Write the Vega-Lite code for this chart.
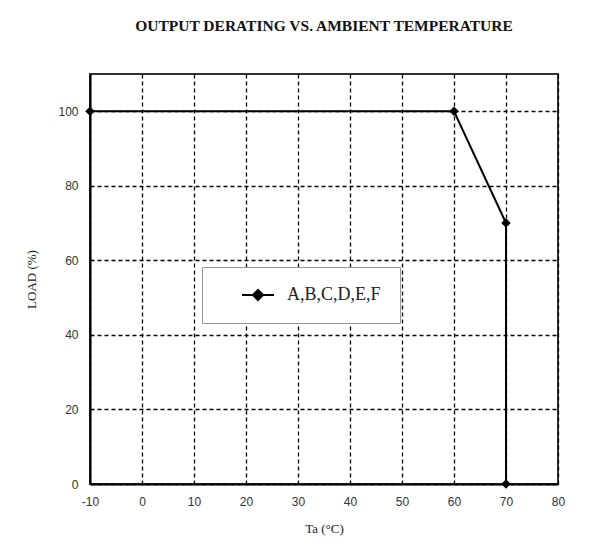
{
  "$schema": "https://vega.github.io/schema/vega-lite/v6.json",
  "autosize": {"type": "none"},
  "padding": {"left": 90, "top": 74, "right": 34, "bottom": 74},
  "width": 468,
  "height": 410,
  "background": "white",
  "title": {
    "text": "OUTPUT DERATING VS. AMBIENT TEMPERATURE",
    "font": "Liberation Serif",
    "fontSize": 15.5,
    "fontWeight": "bold",
    "color": "#111",
    "anchor": "middle",
    "offset": 40
  },
  "config": {
    "view": {"stroke": "#333", "strokeWidth": 2},
    "axis": {
      "labelFont": "Liberation Sans",
      "labelFontSize": 12,
      "labelColor": "#333",
      "titleFont": "Liberation Serif",
      "titleFontSize": 13,
      "titleFontWeight": "normal",
      "titleColor": "#222",
      "ticks": false,
      "tickSize": 0,
      "domainColor": "#000",
      "domainWidth": 2,
      "grid": true,
      "gridColor": "#000",
      "gridWidth": 1.3,
      "gridDash": [4, 3],
      "gridOpacity": 1
    }
  },
  "data": {
    "values": [
      {"ta": -10, "load": 100, "series": "A,B,C,D,E,F"},
      {"ta": 60, "load": 100, "series": "A,B,C,D,E,F"},
      {"ta": 70, "load": 70, "series": "A,B,C,D,E,F"},
      {"ta": 70, "load": 0, "series": "A,B,C,D,E,F"}
    ]
  },
  "mark": {
    "type": "line",
    "strokeWidth": 2,
    "point": {"filled": true, "shape": "diamond", "size": 90}
  },
  "encoding": {
    "x": {
      "field": "ta",
      "type": "quantitative",
      "sort": null,
      "scale": {"domain": [-10, 80], "nice": false, "zero": false},
      "axis": {
        "title": "Ta (°C)",
        "values": [-10, 0, 10, 20, 30, 40, 50, 60, 70, 80],
        "labelExpr": "replace(datum.label, '−', '-')",
        "labelPadding": 12,
        "titlePadding": 15,
        "labelFlush": false
      }
    },
    "y": {
      "field": "load",
      "type": "quantitative",
      "scale": {"domain": [0, 110], "nice": false},
      "axis": {
        "title": "LOAD (%)",
        "values": [0, 20, 40, 60, 80, 100],
        "labelPadding": 12,
        "titlePadding": 19
      }
    },
    "order": {"field": "ta", "type": "quantitative"},
    "color": {
      "field": "series",
      "type": "nominal",
      "scale": {"range": ["#000000"]},
      "legend": {
        "title": null,
        "orient": "none",
        "legendX": 112,
        "legendY": 193,
        "fillColor": "white",
        "strokeColor": "#999",
        "padding": 19,
        "symbolType": "M-2,0L2,0M0,-0.625L0.625,0L0,0.625L-0.625,0Z",
        "symbolSize": 256,
        "symbolStrokeWidth": 2,
        "symbolOffset": 28,
        "labelOffset": 20,
        "labelFont": "Liberation Serif",
        "labelFontSize": 18,
        "labelColor": "#222",
        "labelLimit": 300,
        "encode": {
          "symbols": {
            "update": {
              "fill": {"value": "#000"},
              "stroke": {"value": "#000"},
              "strokeWidth": {"value": 2},
              "opacity": {"value": 1}
            }
          }
        }
      }
    }
  }
}
